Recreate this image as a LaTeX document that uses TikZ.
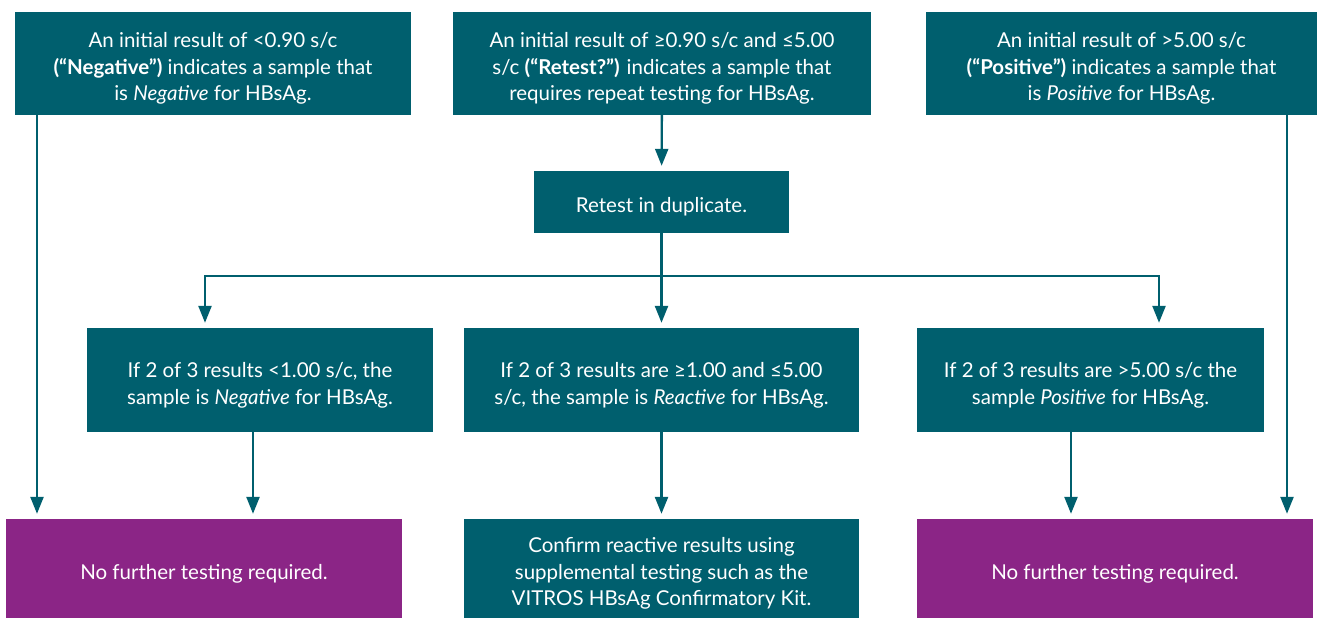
\documentclass[tikz,border=0pt]{standalone}
\usepackage{fontspec}
\setmainfont{Lato}
\usetikzlibrary{positioning,arrows.meta}
\definecolor{hbteal}{RGB}{0,95,110}
\definecolor{hbpurple}{RGB}{139,37,134}
\newcommand\btxt[1]{\raisebox{-5.5pt}[\height][\depth]{\begin{tabular}{@{}c@{}}#1\end{tabular}}}

\begin{document}
\begin{tikzpicture}[x=1pt,y=-1pt,
    box/.style={rectangle,fill=hbteal,text=white,inner sep=0pt,
      font=\fontsize{20.5}{26.5}\selectfont},
    endbox/.style={box,fill=hbpurple},
    arr/.style={draw=hbteal,line width=2.4pt,shorten >=5pt,
      -{Triangle[width=13pt,length=17pt]}}]
       \useasboundingbox (0,0) rectangle (1317,618);
       % first results
       \node [box,minimum width=396pt,minimum height=103pt] (neg) at (213,63.5)
         {\btxt{An initial result of <0.90 s/c\\\textbf{(“Negative”)} indicates a sample that\\is \textit{Negative} for HBsAg.}};
       \node [box,minimum width=418pt,minimum height=103pt] (ret) at (662,63.5)
         {\btxt{An initial result of ≥0.90 s/c and ≤5.00\\s/c \textbf{(“Retest?”)} indicates a sample that\\requires repeat testing for HBsAg.}};
       \node [box,minimum width=391pt,minimum height=103pt] (pos) at (1121.5,63.5)
         {\btxt{An initial result of >5.00 s/c\\\textbf{(“Positive”)} indicates a sample that\\is \textit{Positive} for HBsAg.}};
       \node [box,minimum width=255pt,minimum height=62pt] (dup) at (661.5,202)
         {\btxt{Retest in duplicate.}};
       \coordinate (split) at (661.5,276);
       % retest results
       \node [box,minimum width=346pt,minimum height=104pt] (rneg) at (260,380)
         {\btxt{If 2 of 3 results <1.00 s/c, the\\sample is \textit{Negative} for HBsAg.}};
       \node [box,minimum width=395pt,minimum height=104pt] (rreac) at (661.5,380)
         {\btxt{If 2 of 3 results are ≥1.00 and ≤5.00\\s/c, the sample is \textit{Reactive} for HBsAg.}};
       \node [box,minimum width=347pt,minimum height=104pt] (rpos) at (1090.5,380)
         {\btxt{If 2 of 3 results are >5.00 s/c the\\sample \textit{Positive} for HBsAg.}};
       % outcomes
       \node [endbox,minimum width=396pt,minimum height=99pt] (noneg) at (204,568.5)
         {\btxt{No further testing required.}};
       \node [box,minimum width=395pt,minimum height=99pt] (conf) at (661.5,568.5)
         {\btxt{Confirm reactive results using\\supplemental testing such as the\\VITROS HBsAg Confirmatory Kit.}};
       \node [endbox,minimum width=396pt,minimum height=99pt] (nopos) at (1115,568.5)
         {\btxt{No further testing required.}};
       % connectors
       \draw [arr] (neg.south -| 37,0) to (noneg.north -| 37,0);
       \draw [arr] (pos.south -| 1287,0) to (nopos.north -| 1287,0);
       \draw [arr] (ret) to (dup);
       \draw [arr] (dup) to (rreac);
       \draw [arr] (split) -| ([xshift=-55pt]rneg.north);
       \draw [arr] (split) -| ([xshift=68.5pt]rpos.north);
       \draw [arr] (rneg.south -| 253,0) to (noneg.north -| 253,0);
       \draw [arr] (rreac) to (conf);
       \draw [arr] (rpos.south -| 1071,0) to (nopos.north -| 1071,0);
     \end{tikzpicture}
\end{document}
